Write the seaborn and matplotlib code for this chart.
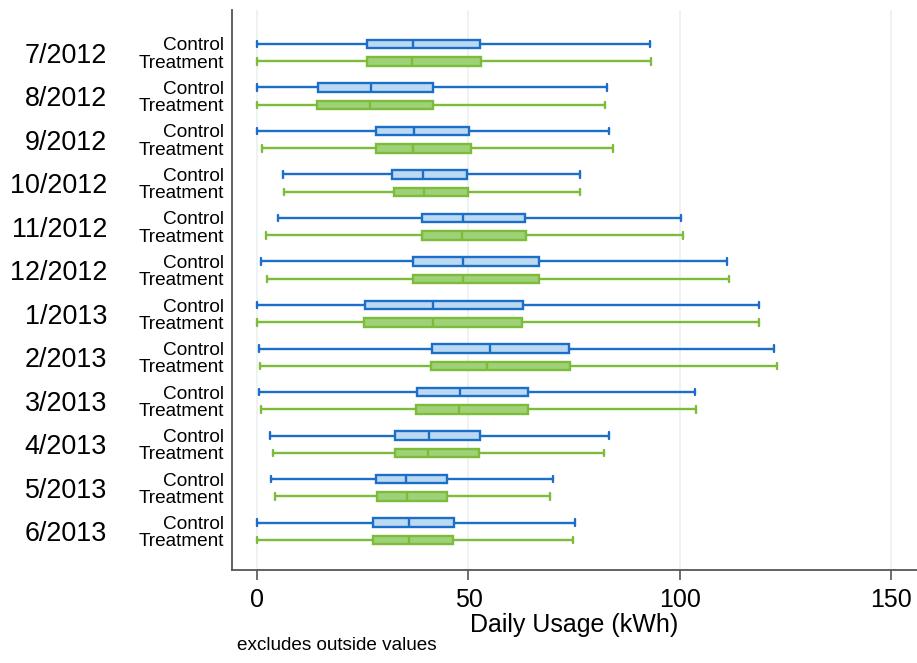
import numpy as np
import pandas as pd
import matplotlib
matplotlib.use("Agg")
import matplotlib.pyplot as plt
import seaborn as sns

# Monthly daily-usage distributions (kWh): whisker ends, quartiles and median
months = ["7/2012", "8/2012", "9/2012", "10/2012", "11/2012", "12/2012",
          "1/2013", "2/2013", "3/2013", "4/2013", "5/2013", "6/2013"]
groups = ["Control", "Treatment"]

control_low = [0.0, 0.0, 0.0, 6.0, 5.0, 0.9, 0.0, 0.3, 0.3, 2.9, 3.2, 0.0]
control_q1 = [26.0, 14.4, 28.0, 32.0, 38.9, 36.8, 25.5, 41.4, 37.7, 32.6, 28.2, 27.5]
control_med = [36.9, 26.9, 37.1, 39.2, 48.6, 48.7, 41.5, 55.0, 48.0, 40.7, 35.3, 36.0]
control_q3 = [52.7, 41.7, 50.1, 49.7, 63.4, 66.6, 62.9, 73.8, 64.0, 52.8, 44.9, 46.5]
control_high = [92.9, 82.9, 83.3, 76.4, 100.3, 111.3, 118.9, 122.4, 103.6, 83.2, 70.1, 75.3]

treatment_low = [0.0, 0.0, 1.1, 6.2, 2.1, 2.2, 0.0, 0.6, 0.8, 3.6, 4.1, 0.0]
treatment_q1 = [26.0, 14.1, 28.2, 32.3, 38.9, 36.8, 25.2, 41.2, 37.5, 32.7, 28.4, 27.3]
treatment_med = [36.6, 26.7, 36.9, 39.4, 48.4, 48.7, 41.5, 54.3, 47.8, 40.5, 35.5, 35.9]
treatment_q3 = [52.9, 41.5, 50.6, 49.9, 63.6, 66.8, 62.6, 74.1, 64.0, 52.6, 44.9, 46.4]
treatment_high = [93.3, 82.4, 84.3, 76.4, 100.7, 111.6, 118.7, 123.0, 103.9, 82.1, 69.4, 74.8]

x_ticks = [0, 50, 100, 150]

stats = {
    "Control": [control_low, control_q1, control_med, control_q3, control_high],
    "Treatment": [treatment_low, treatment_q1, treatment_med, treatment_q3, treatment_high],
}

# Long-form table: five values per box reproduce min / quartiles / median / max
rows = []
for g in groups:
    for i, m in enumerate(months):
        for s in stats[g]:
            rows.append({"month": m, "group": g, "usage": s[i]})
df = pd.DataFrame(rows)

fill_colors = {"Control": "#bcd9f2", "Treatment": "#9fd178"}
edge_colors = {"Control": "#1c6fc9", "Treatment": "#7cbc3a"}

sns.set_theme(style="ticks")
plt.rcParams["font.family"] = ["Liberation Sans", "DejaVu Sans"]

fig = plt.figure(figsize=(9.17, 6.63), dpi=100)
ax = fig.add_axes([232 / 917, 1 - 570 / 663, 1 - 232 / 917, (570 - 10) / 663])

for g in groups:
    sns.boxplot(
        data=df[df["group"] == g], x="usage", y="month", hue="group",
        order=months, hue_order=groups, palette=fill_colors, saturation=1,
        linecolor=edge_colors[g], linewidth=1.7, dodge=True, gap=0.52,
        whis=(0, 100), showfliers=False, capwidths=0.15,
        legend=False, ax=ax,
    )

ax.set_xlim(-6.0, 156.2)
ax.set_ylim(11.89, -0.98)
ax.set_xticks(x_ticks)
ax.set_xticklabels([str(t) for t in x_ticks], fontsize=18)
ax.grid(axis="x", color="#eff2f3", linewidth=1.4)
ax.set_axisbelow(True)

# Month labels on the major ticks, group labels on the minor ticks
ax.set_yticks(range(len(months)))
ax.set_yticklabels(months, fontsize=19.4)
minor_pos = [i + off for i in range(len(months)) for off in (-0.2, 0.2)]
ax.set_yticks(minor_pos, minor=True)
ax.set_yticklabels(groups * len(months), minor=True, fontsize=13.7)
ax.tick_params(axis="y", which="major", length=0, pad=90, labelcolor="black")
ax.tick_params(axis="y", which="minor", length=0, pad=5.8, labelcolor="black")
ax.tick_params(axis="x", length=7, width=1.2, color="#555555", pad=6,
               labelcolor="black")
ax.set_ylabel("")
ax.set_xlabel("Daily Usage (kWh)", fontsize=18, labelpad=1, color="black")

for side in ("top", "right"):
    ax.spines[side].set_visible(False)
for side in ("left", "bottom"):
    ax.spines[side].set_color("#555555")
    ax.spines[side].set_linewidth(1.3)

fig.text(237 / 917, 1 - 645 / 663, "excludes outside values", fontsize=13.6,
         va="center", ha="left", color="black")

fig.savefig("out.png", dpi=100)
